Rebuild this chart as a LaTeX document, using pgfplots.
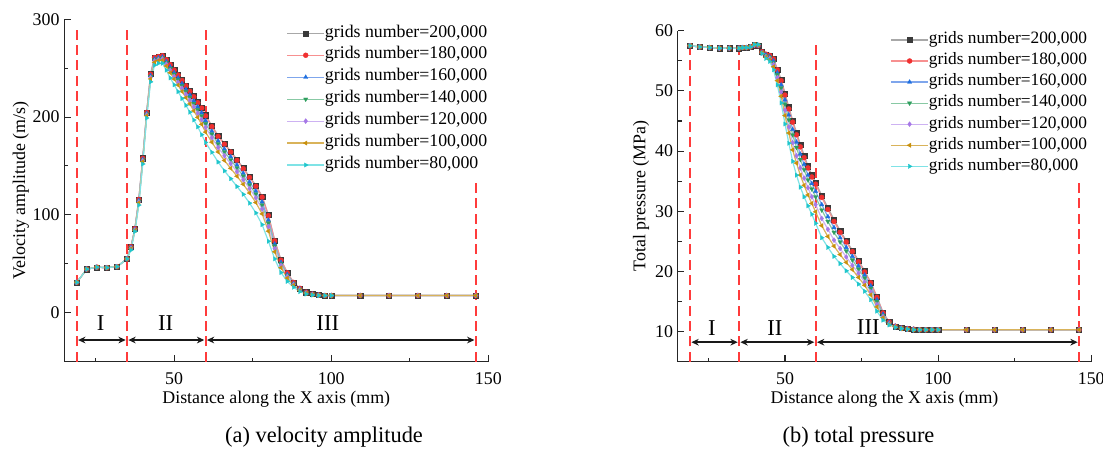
\documentclass[border=0pt]{standalone}
\usepackage{fontspec}
\setmainfont{Liberation Serif}
\usepackage{pgfplots}
\usepackage{pgfplotstable}
\pgfplotsset{compat=1.18}
\usetikzlibrary{arrows.meta}

% marker colours and the lighter line colours of each mesh
\definecolor{mk200}{HTML}{3A3A3A}\definecolor{ln200}{HTML}{A8A8A8}
\definecolor{mk180}{HTML}{F03030}\definecolor{ln180}{HTML}{F79090}
\definecolor{mk160}{HTML}{1E6FE0}\definecolor{ln160}{HTML}{7FA6EC}
\definecolor{mk140}{HTML}{2E9E5E}\definecolor{ln140}{HTML}{88C9A4}
\definecolor{mk120}{HTML}{A678E6}\definecolor{ln120}{HTML}{CDB2F2}
\definecolor{mk100}{HTML}{C8900C}\definecolor{ln100}{HTML}{D9B35A}
\definecolor{mk80}{HTML}{1FC6CC}\definecolor{ln80}{HTML}{7FE3E6}
\definecolor{zone}{HTML}{FF3B3B}

\newcommand\tickfont{\fontsize{13.4pt}{16pt}\selectfont}
\newcommand\legfontL{\fontsize{13.35pt}{16pt}\selectfont}
\newcommand\legfontR{\fontsize{13pt}{15.6pt}\selectfont}
\newcommand\romfont{\fontsize{17pt}{20pt}\selectfont}
\newcommand\capfont{\fontsize{16.8pt}{20pt}\selectfont}

% velocity amplitude (m/s) along the line, one column per mesh
\pgfplotstableread{
x g200 g180 g160 g140 g120 g100 g80
19 31 31 31 31 31 31 31
22.2 44.5 44.5 44.5 44.5 44.5 44.5 44.5
25.4 46.5 46.5 46.5 46.5 46.5 46.5 46.5
28.6 46 46 46 46 46 46 46
31.8 47 47 47 47 47 47 47
35 55 55 55 55 55 55 55
36.25 67.5 67.4 66.8 66.4 65.9 65.3 64
37.5 86 85.9 85.4 85.1 84.7 84.1 83
38.75 116 115.8 114.8 114.1 113.3 112.3 110
40 158 157.8 156.8 156.1 155.3 154.3 152
41.25 205 204.8 203.8 203.1 202.3 201.3 199
42.5 244 243.8 242.4 241.5 240.4 239.0 236
43.75 261 260.8 259.4 258.5 257.4 256.0 253
45 262 261.8 260.6 259.8 258.9 257.7 255
46.25 263 262.8 261.4 260.5 259.4 258.0 255
47.5 259 258.7 256.8 255.6 254.1 252.2 248
48.75 254 253.6 251.2 249.7 247.7 245.3 240
50 248.5 248.0 245.4 243.7 241.5 238.9 233
51.25 243.5 243.0 240.0 238.1 235.6 232.7 226
52.5 238 237.4 234.2 232.1 229.5 226.2 219
53.75 232.5 231.9 228.4 226.1 223.3 219.8 212
55 227 226.3 222.6 220.2 217.1 213.4 205
56.25 221.5 220.8 216.6 213.9 210.5 206.3 197
57.5 215.5 214.7 210.4 207.6 204.0 199.7 190
58.75 210 209.2 204.4 201.3 197.4 192.6 182
60 202 201.2 196.4 193.3 189.4 184.6 174
62 191 190.2 185.6 182.6 178.9 174.3 164
64 181 180.2 175.6 172.6 168.9 164.3 154
66 173 172.2 167.4 164.3 160.4 155.6 145
68 165 164.2 159.4 156.3 152.4 147.6 137
70 156.5 155.7 151.0 148.0 144.1 139.5 129
72 148 147.2 142.6 139.6 135.9 131.3 121
74 139 138.2 133.6 130.6 126.9 122.3 112
76 130 129.2 124.4 121.3 117.4 112.6 102
78 119 118.1 113.2 110.0 106.0 101.0 90
80 100 99.2 94.6 91.6 87.9 83.3 73
82 74 73.4 70.2 68.1 65.5 62.2 55
84 54 53.6 51.4 50.0 48.2 45.9 41
86 41 40.7 39.2 38.2 37.0 35.4 32
88 31 30.9 30.0 29.5 28.8 27.9 26
90 25 24.9 24.3 23.9 23.4 22.8 21.5
92 21 20.9 20.6 20.4 20.1 19.8 19
94 19 19.0 18.8 18.7 18.6 18.4 18
96 18 18.0 17.9 17.8 17.8 17.7 17.5
98 17.5 17.5 17.5 17.5 17.5 17.5 17.5
100 17.5 17.5 17.5 17.5 17.5 17.5 17.5
109.2 17.5 17.5 17.5 17.5 17.5 17.5 nan
118.4 17.5 17.5 17.5 17.5 17.5 17.5 nan
127.6 17.5 17.5 17.5 17.5 17.5 17.5 nan
136.8 17.5 17.5 17.5 17.5 17.5 17.5 nan
146 17.5 17.5 17.5 17.5 17.5 17.5 nan
}\velo

% total pressure (MPa) along the line, one column per mesh
\pgfplotstableread{
x g200 g180 g160 g140 g120 g100 g80
19 57.5 57.5 57.5 57.5 57.5 57.5 57.5
22.2 57.3 57.3 57.3 57.3 57.3 57.3 57.3
25.4 57.2 57.2 57.2 57.2 57.2 57.2 57.2
28.6 57.1 57.1 57.1 57.1 57.1 57.1 57.1
31.8 57.1 57.1 57.1 57.1 57.1 57.1 57.1
35 57.1 57.1 57.1 57.1 57.1 57.1 57.1
36.25 57.2 57.2 57.2 57.2 57.2 57.2 57.2
37.5 57.2 57.2 57.2 57.2 57.2 57.2 57.2
38.75 57.3 57.3 57.3 57.3 57.3 57.3 57.3
40 57.6 57.6 57.6 57.6 57.6 57.7 57.7
41.25 57.5 57.5 57.5 57.6 57.6 57.6 57.7
42.5 56.5 56.5 56.4 56.4 56.3 56.3 56.2
43.75 56.1 56.1 56.0 55.9 55.7 55.6 55.4
45 55.9 55.9 55.7 55.6 55.4 55.2 54.9
46.25 55.4 55.3 55.0 54.7 54.4 54.0 53.5
47.5 53.6 53.5 53.0 52.7 52.2 51.7 51.0
48.75 51.9 51.7 51.0 50.5 49.8 49.1 48.0
50 49.6 49.3 48.5 47.8 46.8 45.9 44.5
51.25 47.3 47.0 46.0 45.2 44.0 43.0 41.3
52.5 45.1 44.8 43.6 42.7 41.4 40.2 38.3
53.75 43.1 42.7 41.5 40.6 39.2 38.0 36.0
55 41.1 40.7 39.5 38.6 37.2 36.0 34.0
56.25 39.3 38.9 37.8 36.9 35.5 34.3 32.4
57.5 37.5 37.2 36.0 35.2 33.9 32.7 30.9
58.75 36.0 35.7 34.6 33.7 32.4 31.3 29.5
60 34.8 34.5 33.3 32.4 31.1 29.9 28.0
62 32.6 32.3 31.1 30.2 28.8 27.6 25.6
64 30.6 30.3 29.1 28.3 27.0 25.8 24.0
66 28.6 28.3 27.3 26.5 25.2 24.2 22.5
68 26.8 26.5 25.6 24.9 23.8 22.8 21.3
70 25.1 24.9 24.0 23.4 22.4 21.5 20.1
72 23.5 23.3 22.5 21.9 21.0 20.3 19.0
74 21.8 21.6 20.9 20.4 19.7 19.0 17.9
76 20.1 19.9 19.4 18.9 18.2 17.7 16.7
78 18.2 18.1 17.6 17.2 16.6 16.1 15.3
80 15.8 15.7 15.3 15.0 14.5 14.1 13.4
82 13.2 13.1 12.9 12.7 12.5 12.3 11.9
84 11.6 11.6 11.5 11.4 11.3 11.2 11.1
86 10.9 10.9 10.9 10.8 10.8 10.8 10.7
88 10.6 10.6 10.6 10.6 10.5 10.5 10.5
90 10.5 10.5 10.5 10.4 10.4 10.4 10.4
92 10.4 10.4 10.4 10.3 10.3 10.3 10.3
94 10.3 10.3 10.3 10.3 10.3 10.3 10.3
96 10.3 10.3 10.3 10.3 10.3 10.3 10.3
98 10.3 10.3 10.3 10.3 10.3 10.3 10.3
100 10.3 10.3 10.3 10.3 10.3 10.3 10.3
109.2 10.3 10.3 10.3 10.3 10.3 10.3 nan
118.4 10.3 10.3 10.3 10.3 10.3 10.3 nan
127.6 10.3 10.3 10.3 10.3 10.3 10.3 nan
136.8 10.3 10.3 10.3 10.3 10.3 10.3 nan
146 10.3 10.3 10.3 10.3 10.3 10.3 nan
}\pres

\tikzset{
  zone dash/.style={draw=zone, line width=1.4pt, dash pattern=on 7.5pt off 4pt},
  zone arrow/.style={draw=black!90, line width=1.1pt,
    {Stealth[length=5.5pt,width=5pt]}-{Stealth[length=5.5pt,width=5pt]},
    shorten <=1pt, shorten >=1pt},
}

\pgfplotsset{
  grid series/.style n args={4}{draw=#1, line width=0.9pt, mark=#3, mark size=1.9pt,
    mark options={solid, draw=#2, fill=#2, line width=0.2pt, rotate=#4}},
  s200/.style={grid series={ln200}{mk200}{square*}{0}},
  s180/.style={grid series={ln180}{mk180}{*}{0}},
  s160/.style={grid series={ln160}{mk160}{triangle*}{0}},
  s140/.style={grid series={ln140}{mk140}{triangle*}{180}},
  s120/.style={grid series={ln120}{mk120}{diamond*}{0}},
  s100/.style={grid series={ln100}{mk100}{triangle*}{90}},
  s80/.style={grid series={ln80}{mk80}{triangle*}{-90}},
  zone line/.style={forget plot, zone dash, mark=none},
  panel/.style={
    scale only axis, anchor=south west,
    axis lines*=left, tick align=inside,
    xmin=15, xmax=150, xtick={50,100,150}, minor xtick={25,75,125},
    axis line style={line width=0.9pt, black!85},
    major tick style={line width=0.8pt, black!85},
    minor tick style={line width=0.8pt, black!85},
    major tick length=5pt, minor tick length=3pt,
    tick label style={font=\tickfont}, label style={font=\tickfont},
    xticklabel style={yshift=-4.5pt},
    /pgf/number format/assume math mode=true,
    xlabel={Distance along the X axis (mm)},
    xlabel style={at={(rel axis cs:0.5,0)}, anchor=center, yshift=-28pt},
    legend cell align=left,
    % legend sample: a line with one marker at its middle
    legend image code/.code={\draw[mark indices={2},##1]
      plot coordinates {(0pt,0pt) (14pt,0pt) (28pt,0pt)};},
  },
}

\begin{document}
\begin{tikzpicture}
\path[use as bounding box] (0,0) rectangle (827.25pt,338.25pt);

% (a) velocity amplitude
\begin{axis}[panel, at={(48.15pt,67.1pt)}, width=318.1pt, height=256.7pt,
  ymin=-50, ymax=300, ytick={0,100,200,300}, minor ytick={50,150,250},
  ylabel={Velocity amplitude (m/s)},
  ylabel style={at={(rel axis cs:-0.102,0.5)}, anchor=center},
  legend style={draw=none, fill=none, inner sep=0pt, outer sep=0pt,
    at={(0.524,0.991)}, anchor=north west, font=\legfontL, row sep=0pt,
    nodes={inner sep=0pt, text height=11pt, text depth=5.46pt},
    /tikz/every even column/.append style={column sep=4.5pt}}]
\addplot[zone line] coordinates {(19,-50) (19,289)};
\addplot[zone line] coordinates {(35,-50) (35,289)};
\addplot[zone line] coordinates {(60,-50) (60,289)};
\addplot[zone line] coordinates {(146,-50) (146,136)};
\addplot[s200] table[x=x,y=g200] {\velo}; \addlegendentry{grids number=200,000}
\addplot[s180] table[x=x,y=g180] {\velo}; \addlegendentry{grids number=180,000}
\addplot[s160] table[x=x,y=g160] {\velo}; \addlegendentry{grids number=160,000}
\addplot[s140] table[x=x,y=g140] {\velo}; \addlegendentry{grids number=140,000}
\addplot[s120] table[x=x,y=g120] {\velo}; \addlegendentry{grids number=120,000}
\addplot[s100] table[x=x,y=g100] {\velo}; \addlegendentry{grids number=100,000}
\addplot[s80] table[x=x,y=g80] {\velo}; \addlegendentry{grids number=80,000}
\draw[zone arrow] (axis cs:19,-28) -- (axis cs:35,-28);
\draw[zone arrow] (axis cs:35,-28) -- (axis cs:60,-28);
\draw[zone arrow] (axis cs:60,-28) -- (axis cs:146,-28);
\node[font=\romfont] at (axis cs:26.6,-10.9) {I};
\node[font=\romfont] at (axis cs:47.3,-10.9) {II};
\node[font=\romfont] at (axis cs:98.9,-10.9) {III};
\end{axis}

% (b) total pressure
\begin{axis}[panel, at={(508.35pt,66.98pt)}, width=310.1pt, height=248.25pt,
  ymin=5, ymax=60, ytick={10,20,30,40,50,60}, minor ytick={15,25,35,45,55},
  ylabel={Total pressure (MPa)},
  ylabel style={at={(rel axis cs:-0.089,0.5)}, anchor=center},
  legend style={draw=none, fill=none, inner sep=0pt, outer sep=0pt,
    at={(0.514,1.004)}, anchor=north west, font=\legfontR, row sep=0pt,
    nodes={inner sep=0pt, text height=10.8pt, text depth=5.0pt},
    /tikz/every even column/.append style={column sep=4.5pt}}]
\addplot[zone line] coordinates {(19,5) (19,58.2)};
\addplot[zone line] coordinates {(35,5) (35,58.2)};
\addplot[zone line] coordinates {(60,5) (60,58.2)};
\addplot[zone line] coordinates {(146,5) (146,34.9)};
\addplot[s200] table[x=x,y=g200] {\pres}; \addlegendentry{grids number=200,000}
\addplot[s180] table[x=x,y=g180] {\pres}; \addlegendentry{grids number=180,000}
\addplot[s160] table[x=x,y=g160] {\pres}; \addlegendentry{grids number=160,000}
\addplot[s140] table[x=x,y=g140] {\pres}; \addlegendentry{grids number=140,000}
\addplot[s120] table[x=x,y=g120] {\pres}; \addlegendentry{grids number=120,000}
\addplot[s100] table[x=x,y=g100] {\pres}; \addlegendentry{grids number=100,000}
\addplot[s80] table[x=x,y=g80] {\pres}; \addlegendentry{grids number=80,000}
\draw[zone arrow] (axis cs:19,8.24) -- (axis cs:35,8.24);
\draw[zone arrow] (axis cs:35,8.24) -- (axis cs:60,8.24);
\draw[zone arrow] (axis cs:60,8.24) -- (axis cs:146,8.24);
\node[font=\romfont] at (axis cs:26.1,10.6) {I};
\node[font=\romfont] at (axis cs:46.7,10.6) {II};
\node[font=\romfont] at (axis cs:77.2,10.8) {III};
\end{axis}

\node[font=\capfont] at (243pt,10.1pt) {(a) velocity amplitude};
\node[font=\capfont] at (643.9pt,10.1pt) {(b) total pressure};
\end{tikzpicture}
\end{document}
